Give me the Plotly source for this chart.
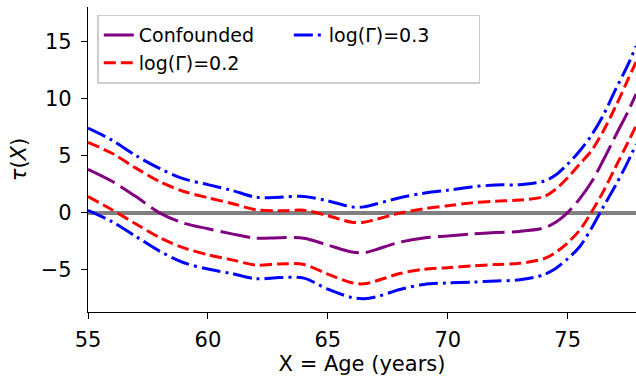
import plotly.graph_objects as go

age = [55, 56, 57, 58, 59, 60, 61, 62, 63, 64, 65, 66, 66.5, 67, 68, 69, 70, 71, 72,
       73, 74, 74.5, 75, 75.5, 76, 76.5, 77, 77.5, 77.85]

confounded = [3.8, 2.75, 1.4, -0.05, -0.93, -1.42, -1.87, -2.25, -2.2, -2.25, -2.85, -3.45,
              -3.52, -3.25, -2.6, -2.22, -2.05, -1.87, -1.75, -1.65, -1.35, -0.85, 0.0, 1.2,
              2.7, 4.65, 6.75, 8.8, 10.4]

g02_upper = [6.15, 5.2, 3.9, 2.7, 1.85, 1.3, 0.8, 0.25, 0.15, 0.2, -0.27, -0.85, -0.85, -0.6,
             -0.05, 0.33, 0.6, 0.85, 1.0, 1.1, 1.4, 2.05, 3.05, 4.25, 5.45, 7.2, 9.3, 11.6, 13.2]
g02_lower = [1.4, 0.25, -1.0, -2.2, -3.1, -3.7, -4.15, -4.6, -4.5, -4.55, -5.4, -6.15, -6.25,
             -6.0, -5.35, -4.97, -4.83, -4.68, -4.55, -4.45, -4.05, -3.5, -2.65, -1.55, 0.05,
             1.9, 4.0, 6.1, 7.6]

g03_upper = [7.4, 6.35, 5.0, 3.85, 2.95, 2.45, 1.95, 1.35, 1.35, 1.42, 1.03, 0.5, 0.5, 0.75,
             1.3, 1.7, 1.96, 2.25, 2.42, 2.45, 2.75, 3.3, 4.25, 5.4, 6.8, 8.6, 10.8, 12.9, 14.6]
g03_lower = [0.2, -0.8, -2.1, -3.4, -4.4, -4.95, -5.35, -5.8, -5.7, -5.75, -6.72, -7.45, -7.55,
             -7.4, -6.75, -6.3, -6.17, -6.1, -6.0, -5.9, -5.45, -4.9, -4.05, -3.0, -1.35, 0.55,
             2.4, 4.4, 6.0]

x_ticks = [55, 60, 65, 70, 75]
y_ticks = [-5, 0, 5, 10, 15]

FONT = "DejaVu Sans"
LW = 3

fig = go.Figure()

def add(y, name, color, dash, show, rank):
    fig.add_trace(go.Scatter(
        x=age, y=y, mode="lines", name=name, showlegend=show, legendrank=rank,
        line=dict(color=color, width=LW, dash=dash, shape="spline", smoothing=0.9),
        hoverinfo="skip"))

add(confounded, "Confounded", "purple", "30px,7px", True, 1)
add(g02_upper, "log(Γ)=0.2", "red", "12px,5px", True, 3)
add(g02_lower, "log(Γ)=0.2", "red", "12px,5px", False, 3)
add(g03_upper, "log(Γ)=0.3", "blue", "19px,5px,3px,5px", True, 2)
add(g03_lower, "log(Γ)=0.3", "blue", "19px,5px,3px,5px", False, 2)

fig.update_layout(
    width=636, height=377,
    margin=dict(l=88, r=0, t=7, b=65, autoexpand=False),
    plot_bgcolor="white", paper_bgcolor="white",
    font=dict(family=FONT, size=21, color="black"),
    showlegend=True,
    legend=dict(
        orientation="h", x=0.017, y=0.975, xanchor="left", yanchor="top",
        entrywidth=145, entrywidthmode="pixels",
        bgcolor="rgba(255,255,255,0.8)", bordercolor="#cccccc", borderwidth=1.5,
        font=dict(family=FONT, size=19, color="black"),
        tracegroupgap=0,
    ),
    xaxis=dict(
        range=[55, 77.85], tickvals=x_ticks, ticks="outside", ticklen=6, tickwidth=1.2,
        tickcolor="black", showline=True, linecolor="black", linewidth=1.2,
        showgrid=False, zeroline=False, mirror=False, automargin=False,
        title=dict(text="X = Age (years)", standoff=5, font=dict(size=21)),
        tickfont=dict(size=21), ticklabelstandoff=3,
    ),
    yaxis=dict(
        range=[-8.72, 18.03], tickvals=y_ticks, ticks="outside", ticklen=6, tickwidth=1.2,
        tickcolor="black", showline=True, linecolor="black", linewidth=1.2,
        showgrid=False, zeroline=True, zerolinecolor="gray", zerolinewidth=3.5,
        automargin=False,
        title=dict(text="<i>τ</i>(<i>X</i>)", standoff=8, font=dict(size=21)),
        tickfont=dict(size=21), ticklabelstandoff=5,
    ),
)

fig.write_html("out.html", config={"displayModeBar": False},
               post_script="document.body.style.margin='0px';")
